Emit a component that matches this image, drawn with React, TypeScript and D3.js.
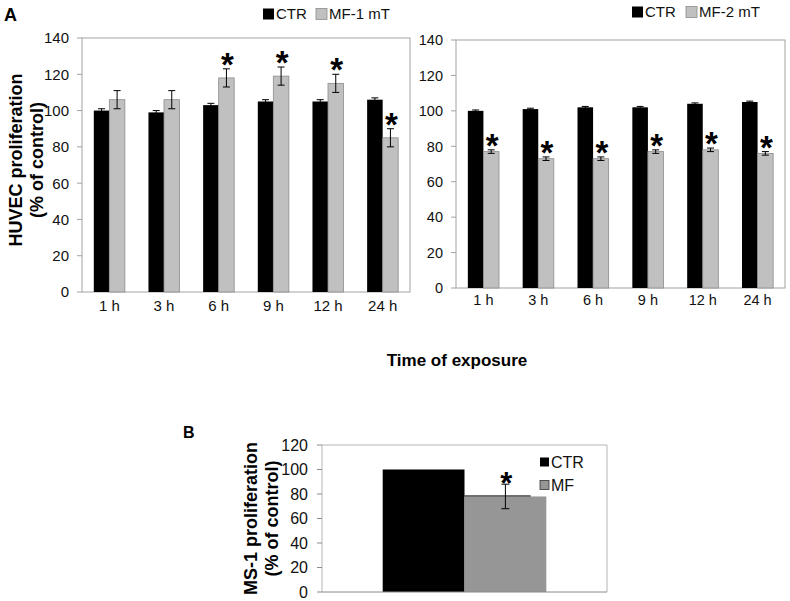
import React from 'react';
import * as d3 from 'd3';

// Panel A data
const timePoints = ['1 h', '3 h', '6 h', '9 h', '12 h', '24 h'];
const ctr1 = [100, 99, 103, 105, 105, 106];
const ctr1Err = [1, 1, 1, 1, 1, 1];
const mf1 = [106, 106, 118, 119, 115, 85];
const mf1Err = [5, 5, 5, 5, 5, 5];
const mf1Sig = [false, false, true, true, true, true];

const ctr2 = [100, 101, 102, 102, 104, 105];
const ctr2Err = [0.5, 0.5, 0.5, 0.5, 0.5, 0.5];
const mf2 = [77, 73, 73, 77, 78, 76];
const mf2Err = [1, 1, 1, 1, 1, 1];
const mf2Sig = [true, true, true, true, true, true];

const yTicksA = [0, 20, 40, 60, 80, 100, 120, 140];

// Panel B data
const groupsB = ['CTR', 'MF'];
const valuesB = [100, 78];
const errorsB = [0, 10];
const sigB = [false, true];
const yTicksB = [0, 20, 40, 60, 80, 100, 120];

const FONT = 'Arial, "Liberation Sans", Helvetica, sans-serif';
const FRAME = '#a3a3a3';

interface PanelProps {
  left: number;
  right: number;
  top: number;
  bottom: number;
  ctr: number[];
  ctrErr: number[];
  mf: number[];
  mfErr: number[];
  sig: boolean[];
  tickSize: number;
  labelY: number;
}

const TimePanel: React.FC<PanelProps> = ({ left, right, top, bottom, ctr, ctrErr, mf, mfErr, sig, tickSize, labelY }) => {
  const x = d3.scaleBand<string>().domain(timePoints).range([left, right]).padding(0);
  const inner = d3.scaleBand<string>().domain(['ctr', 'mf']).range([0, x.bandwidth()]).paddingInner(0).paddingOuter(0.76);
  const y = d3.scaleLinear().domain([0, 140]).range([bottom, top]);
  const bw = inner.bandwidth();
  const cap = 3.5;
  const starSize = 33;

  return (
    <g>
      <rect x={left} y={top} width={right - left} height={bottom - top} fill="#fff" stroke={FRAME} strokeWidth={1} />
      {yTicksA.map(t => (
        <g key={t}>
          <line x1={left - 5} x2={left} y1={y(t)} y2={y(t)} stroke={FRAME} />
          <text x={left - 13} y={y(t)} dy="0.36em" textAnchor="end" fontSize={tickSize} fill="#111">{t}</text>
        </g>
      ))}
      {timePoints.map((tp, i) => {
        const gx = x(tp)!;
        const cx = gx + inner('ctr')!;
        const mx = gx + inner('mf')!;
        const errTop = y(mf[i] + mfErr[i]);
        return (
          <g key={tp}>
            <rect x={cx} y={y(ctr[i])} width={bw} height={bottom - y(ctr[i])} fill="#000" />
            <rect x={mx} y={y(mf[i])} width={bw} height={bottom - y(mf[i])} fill="#c0c0c0" stroke="#8c8c8c" strokeWidth={0.8} />
            <g stroke="#000" strokeWidth={1}>
              <line x1={cx + bw / 2} x2={cx + bw / 2} y1={y(ctr[i] + ctrErr[i])} y2={y(ctr[i] - ctrErr[i])} />
              <line x1={cx + bw / 2 - cap} x2={cx + bw / 2 + cap} y1={y(ctr[i] + ctrErr[i])} y2={y(ctr[i] + ctrErr[i])} />
              <line x1={mx + bw / 2} x2={mx + bw / 2} y1={errTop} y2={y(mf[i] - mfErr[i])} />
              <line x1={mx + bw / 2 - cap} x2={mx + bw / 2 + cap} y1={errTop} y2={errTop} />
              <line x1={mx + bw / 2 - cap} x2={mx + bw / 2 + cap} y1={y(mf[i] - mfErr[i])} y2={y(mf[i] - mfErr[i])} />
            </g>
            {sig[i] && (
              <text x={mx + bw / 2 + 1} y={errTop - 12 + starSize * 0.58} textAnchor="middle" fontSize={starSize} fontWeight="bold">*</text>
            )}
            <text x={gx + x.bandwidth() / 2} y={labelY} textAnchor="middle" fontSize={tickSize} fill="#111">{tp}</text>
          </g>
        );
      })}
    </g>
  );
};

const LegendItem: React.FC<{ x: number; y: number; fill: string; stroke?: string; label: string; size: number; box: number }> = ({ x, y, fill, stroke, label, size, box }) => (
  <g>
    <rect x={x} y={y - box / 2} width={box} height={box} fill={fill} stroke={stroke || 'none'} strokeWidth={0.8} />
    <text x={x + box + 2} y={y} dy="0.36em" fontSize={size} fill="#111">{label}</text>
  </g>
);

const PanelB: React.FC = () => {
  const left = 322, right = 607, top = 445, bottom = 592;
  const x = d3.scaleBand<string>().domain(['MS-1']).range([left, right]).padding(0);
  const inner = d3.scaleBand<string>().domain(groupsB).range([0, x.bandwidth()]).paddingInner(0).paddingOuter(0.742);
  const y = d3.scaleLinear().domain([0, 120]).range([bottom, top]);
  const bw = inner.bandwidth();
  const cap = 4;
  const starSize = 31;
  const gx = x('MS-1')!;

  return (
    <g>
      <path d={`M${left},${bottom}V${top}H${right}V${bottom}`} fill="none" stroke="#b5b5b5" />
      {groupsB.map((g, i) => {
        const bx = gx + inner(g)!;
        const isMf = i === 1;
        return (
          <g key={g}>
            <rect x={bx} y={y(valuesB[i])} width={bw} height={bottom - y(valuesB[i])} fill={isMf ? '#969696' : '#000'} />
            {isMf && (
              <line x1={bx} x2={bx + bw * 0.81} y1={y(valuesB[i]) - 0.5} y2={y(valuesB[i]) - 0.5} stroke="#000" strokeWidth={1} />
            )}
            {errorsB[i] > 0 && (
              <g stroke="#000" strokeWidth={1}>
                <line x1={bx + bw / 2} x2={bx + bw / 2} y1={y(valuesB[i] + errorsB[i])} y2={y(valuesB[i] - errorsB[i])} />
                <line x1={bx + bw / 2 - cap} x2={bx + bw / 2 + cap} y1={y(valuesB[i] + errorsB[i])} y2={y(valuesB[i] + errorsB[i])} />
                <line x1={bx + bw / 2 - cap} x2={bx + bw / 2 + cap} y1={y(valuesB[i] - errorsB[i])} y2={y(valuesB[i] - errorsB[i])} />
              </g>
            )}
            {sigB[i] && (
              <text x={bx + bw / 2 + 1} y={y(valuesB[i] + errorsB[i]) - 8 + starSize * 0.58} textAnchor="middle" fontSize={starSize} fontWeight="bold">*</text>
            )}
          </g>
        );
      })}
      <line x1={left} x2={right} y1={bottom} y2={bottom} stroke="#8a8a8a" />
      {yTicksB.map(t => (
        <g key={t}>
          <line x1={left - 5} x2={left} y1={y(t)} y2={y(t)} stroke="#8a8a8a" />
          <text x={left - 14} y={y(t)} dy="0.36em" textAnchor="end" fontSize={16} fill="#111">{t}</text>
        </g>
      ))}
      <LegendItem x={540} y={462} fill="#000" label="CTR" size={16} box={9} />
      <LegendItem x={540} y={485} fill="#969696" stroke="#333" label="MF" size={16} box={9} />
      <text transform={`translate(251,${(top + bottom) / 2}) rotate(-90)`} textAnchor="middle" dominantBaseline="central" fontSize={18} fontWeight="bold">MS-1 proliferation</text>
      <text transform={`translate(272,${(top + bottom) / 2}) rotate(-90)`} textAnchor="middle" dominantBaseline="central" fontSize={18} fontWeight="bold">(% of control)</text>
      <text x={183} y={438} fontSize={16} fontWeight="bold">B</text>
    </g>
  );
};

export default function App() {
  return (
    <div style={{ position: 'absolute', left: 0, top: 0 }}>
      <svg width={790} height={601} style={{ display: 'block', background: '#fff', fontFamily: FONT }}>
        <text x={4} y={21} fontSize={18} fontWeight="bold">A</text>
        <LegendItem x={263} y={14} fill="#000" label="CTR" size={15} box={11} />
        <LegendItem x={316} y={14} fill="#c0c0c0" stroke="#8c8c8c" label="MF-1 mT" size={15} box={11} />
        <LegendItem x={632} y={12} fill="#000" label="CTR" size={15} box={11} />
        <LegendItem x={686} y={12} fill="#c0c0c0" stroke="#8c8c8c" label="MF-2 mT" size={15} box={11} />

        <TimePanel left={82} right={410} top={38} bottom={292} ctr={ctr1} ctrErr={ctr1Err} mf={mf1} mfErr={mf1Err} sig={mf1Sig} tickSize={15} labelY={311} />
        <TimePanel left={456} right={785} top={40} bottom={288} ctr={ctr2} ctrErr={ctr2Err} mf={mf2} mfErr={mf2Err} sig={mf2Sig} tickSize={14.5} labelY={305} />

        <text transform="translate(16,160) rotate(-90)" textAnchor="middle" dominantBaseline="central" fontSize={18} fontWeight="bold">HUVEC proliferation</text>
        <text transform="translate(37,160) rotate(-90)" textAnchor="middle" dominantBaseline="central" fontSize={18} fontWeight="bold">(% of control)</text>
        <text x={457} y={366} textAnchor="middle" fontSize={17} fontWeight="bold">Time of exposure</text>

        <PanelB />
      </svg>
    </div>
  );
}
